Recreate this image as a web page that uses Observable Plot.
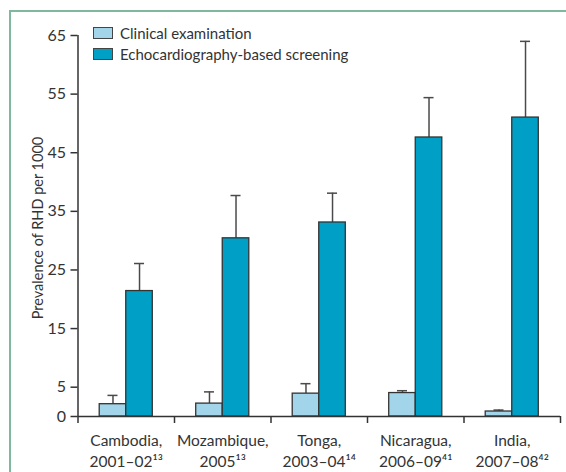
<!DOCTYPE html>
<html>
<head>
<meta charset="utf-8">
<script src="https://cdn.jsdelivr.net/npm/d3@7"></script>
<script src="https://cdn.jsdelivr.net/npm/@observablehq/plot@0.6"></script>
<style>
  body { margin: 0; background: #fff; }
  #wrap { position: relative; width: 566px; height: 472px; overflow: hidden; font-family: Lato, "Open Sans", sans-serif; color: #333; }
  #frame { position: absolute; left: 9px; top: 10px; right: -20px; bottom: -20px; border-left: 2px solid #7fb79f; border-top: 2px solid #7fb79f; pointer-events: none; }
  #legend { position: absolute; left: 93px; top: 22.5px; font-size: 15px; }
  .row { display: flex; align-items: center; height: 21px; }
  .sw { width: 20px; height: 12px; box-sizing: border-box; border: 1.5px solid #444; margin-right: 7px; }
</style>
</head>
<body>
<div id="wrap">
  <div id="chart"></div>
  <div id="legend"></div>
  <div id="frame"></div>
</div>
<script>
const categories = ["Cambodia", "Mozambique", "Tonga", "Nicaragua", "India"];
const periods = ["2001–02¹³", "2005¹³", "2003–04¹⁴", "2006–09⁴¹", "2007–08⁴²"];
const series = ["Clinical examination", "Echocardiography-based screening"];
const clinical = [2.1, 2.2, 3.9, 4.0, 0.85];
const clinicalUpper = [3.6, 4.2, 5.6, 4.4, 1.1];
const echo = [21.4, 30.4, 33.1, 47.6, 51.0];
const echoUpper = [26.1, 37.7, 38.1, 54.4, 64.0];
const yTicks = [0, 5, 15, 25, 35, 45, 55, 65];
const colors = ["#a2d5e9", "#00a0c6"];

const barW = 0.275;   // fraction of a category band
const cap = 0.052;    // half-width of error bar cap

const rows = [];
categories.forEach((c, i) => {
  [[clinical, clinicalUpper], [echo, echoUpper]].forEach(([v, u], s) => {
    const x1 = i + 0.5 + (s === 0 ? -barW : 0);
    rows.push({ i, series: series[s], value: v[i], upper: u[i], x1, x2: x1 + barW, cx: x1 + barW / 2 });
  });
});

const plot = Plot.plot({
  width: 566,
  height: 472,
  marginLeft: 77.5,
  marginRight: 6,
  marginTop: 35,
  marginBottom: 56,
  style: { fontFamily: "Lato, 'Open Sans', sans-serif", fontSize: "15px", color: "#333", background: "transparent" },
  x: { domain: [0, categories.length] },
  y: { domain: [0, 65] },
  color: { domain: series, range: colors },
  marks: [
    Plot.ruleX(rows, { x: "cx", y1: "value", y2: "upper", stroke: "#4a4a4a", strokeWidth: 1.5 }),
    Plot.ruleY(rows, { y: "upper", x1: d => d.cx - cap, x2: d => d.cx + cap, stroke: "#4a4a4a", strokeWidth: 1.5 }),
    Plot.rect(rows, { x1: "x1", x2: "x2", y1: 0, y2: "value", fill: "series", stroke: "#333", strokeWidth: 1.3 }),
    Plot.ruleY([0], { stroke: "#333", strokeWidth: 1.5 }),
    Plot.ruleX([0], { stroke: "#333", strokeWidth: 1.5 }),
    Plot.axisX({ ticks: d3.range(categories.length + 1), tickFormat: () => "", tickSize: 7, stroke: "#333", strokeWidth: 1.5 }),
    Plot.axisY({ ticks: yTicks, tickSize: 7, tickPadding: 5, label: null, stroke: "#333", strokeWidth: 1.5, fill: "#333", fontSize: 16 }),
    Plot.text(categories, { x: (d, i) => i + 0.5, text: (d, i) => d + ",\n" + periods[i], frameAnchor: "bottom", lineAnchor: "top", dy: 15, lineHeight: 1.33, fill: "#333", fontSize: 15.5 }),
    Plot.text(["Prevalence of RHD per 1000"], { frameAnchor: "left", textAnchor: "middle", rotate: -90, dx: -40, dy: 2, fill: "#333", fontSize: 14.5 })
  ]
});
document.getElementById("chart").appendChild(plot);

const legend = document.getElementById("legend");
series.forEach((s, k) => {
  const row = document.createElement("div");
  row.className = "row";
  const sw = document.createElement("div");
  sw.className = "sw";
  sw.style.background = colors[k];
  const label = document.createElement("span");
  label.textContent = s;
  row.appendChild(sw);
  row.appendChild(label);
  legend.appendChild(row);
});
</script>
</body>
</html>
